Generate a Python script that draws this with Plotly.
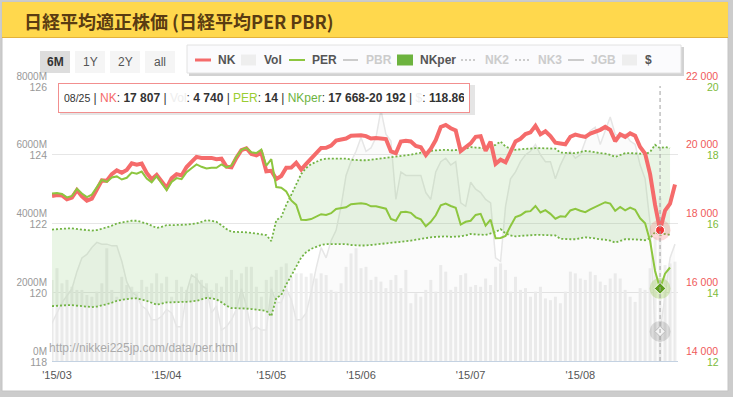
import plotly.graph_objects as go
import pandas as pd

# ---------------- data ----------------
holidays = ['2015-04-29', '2015-05-04', '2015-05-05', '2015-05-06', '2015-07-20']
dates = [d.strftime('%Y-%m-%d') for d in pd.bdate_range('2015-02-27', '2015-08-28')
         if d.strftime('%Y-%m-%d') not in holidays]

nk = [18798, 18827, 18815, 18704, 18752, 18971, 18790, 18665, 18723, 18991,
      19254, 19246, 19437, 19544, 19477, 19560, 19754, 19714, 19746, 19471,
      19286, 19411, 19207, 19035, 19313, 19435, 19398, 19641, 19790, 19938,
      19908, 19905, 19909, 19870, 19886, 19653, 19635, 19910, 20134, 20188,
      20020, 19983, 20059, 19520, 19532, 19292, 19380, 19621, 19625, 19765,
      19571, 19733, 19890, 20026, 20197, 20203, 20265, 20414, 20437, 20473,
      20552, 20563, 20570, 20543, 20473, 20489, 20461, 20458, 20097, 20046,
      20383, 20407, 20388, 20258, 20219, 19990, 20174, 20428, 20809, 20868,
      20772, 20706, 20110, 20236, 20330, 20523, 20540, 20113, 20377, 19737,
      19855, 19780, 20090, 20386, 20464, 20601, 20650, 20842, 20594, 20683,
      20545, 20350, 20329, 20303, 20523, 20585, 20549, 20521, 20615, 20665,
      20725, 20809, 20721, 20393, 20596, 20520, 20621, 20555, 20223, 20033,
      19436, 18541, 17807, 18377, 18575, 19136]

per = [16.87, 16.89, 16.86, 16.76, 16.80, 17.01, 16.87, 16.77, 16.84, 17.06,
       17.27, 17.21, 17.34, 17.37, 17.28, 17.33, 17.48, 17.45, 17.51, 17.31,
       17.20, 17.38, 17.16, 16.97, 17.21, 17.32, 17.29, 17.49, 17.61, 17.72,
       17.65, 17.60, 17.62, 17.62, 17.72, 17.63, 17.69, 17.94, 18.14, 18.20,
       18.07, 18.05, 18.15, 17.68, 17.87, 17.06, 17.04, 16.93, 16.67, 16.54,
       16.11, 16.10, 16.13, 16.19, 16.27, 16.25, 16.30, 16.42, 16.44, 16.47,
       16.56, 16.58, 16.59, 16.57, 16.50, 16.50, 16.46, 16.43, 16.13, 16.08,
       16.33, 16.34, 16.31, 16.18, 16.12, 15.92, 16.05, 16.24, 16.53, 16.58,
       16.51, 16.46, 15.97, 16.05, 16.08, 16.25, 16.28, 15.94, 16.11, 15.57,
       15.58, 15.64, 15.93, 16.19, 16.24, 16.34, 16.36, 16.51, 16.32, 16.39,
       16.28, 16.14, 16.21, 16.20, 16.38, 16.43, 16.37, 16.33, 16.41, 16.48,
       16.54, 16.62, 16.58, 16.37, 16.48, 16.38, 16.46, 16.40, 16.15, 16.01,
       15.49, 14.62, 14.11, 14.54, 14.72, None]

nkper_low = [15596, 15610, 15624, 15624, 15624, 15610, 15596, 15582, 15568, 15582,
             15610, 15652, 15694, 15750, 15778, 15806, 15820, 15820, 15792, 15750,
             15694, 15638, 15666, 15708, 15708, 15708, 15708, 15722, 15736, 15750,
             15792, 15834, 15820, 15792, 15708, 15610, 15540, 15540, 15540, 15526,
             15512, 15498, 15470, 15456, 15302, 15834, 15918, 16226, 16478, 16730,
             17010, 17164, 17262, 17318, 17374, 17402, 17402, 17402, 17402, 17402,
             17374, 17360, 17360, 17360, 17374, 17388, 17402, 17430, 17444, 17458,
             17472, 17486, 17500, 17528, 17556, 17584, 17598, 17612, 17626, 17626,
             17612, 17612, 17626, 17654, 17696, 17682, 17668, 17668, 17710, 17752,
             17836, 17710, 17654, 17626, 17640, 17654, 17668, 17668, 17668, 17668,
             17668, 17654, 17556, 17542, 17542, 17542, 17570, 17598, 17584, 17556,
             17542, 17528, 17500, 17444, 17500, 17542, 17542, 17542, 17528, 17514,
             17570, 17752, 17668, 17696, 17668, None]

nkper_high = [17824, 17840, 17856, 17856, 17856, 17840, 17824, 17808, 17792, 17808,
              17840, 17888, 17936, 18000, 18032, 18064, 18080, 18080, 18048, 18000,
              17936, 17872, 17904, 17952, 17952, 17952, 17952, 17968, 17984, 18000,
              18048, 18096, 18080, 18048, 17952, 17840, 17760, 17760, 17760, 17744,
              17728, 17712, 17680, 17664, 17488, 18096, 18192, 18544, 18832, 19120,
              19440, 19616, 19728, 19792, 19856, 19888, 19888, 19888, 19888, 19888,
              19856, 19840, 19840, 19840, 19856, 19872, 19888, 19920, 19936, 19952,
              19968, 19984, 20000, 20032, 20064, 20096, 20112, 20128, 20144, 20144,
              20128, 20128, 20144, 20176, 20224, 20208, 20192, 20192, 20240, 20288,
              20384, 20240, 20176, 20144, 20160, 20176, 20192, 20192, 20192, 20192,
              20192, 20176, 20064, 20048, 20048, 20048, 20080, 20112, 20096, 20064,
              20048, 20032, 20000, 19936, 20000, 20048, 20048, 20048, 20032, 20016,
              20080, 20288, 20192, 20224, 20192, None]

vol = [2360, 2700, 2260, 2360, 2160, 2070, 2070, 1920, 1870, 2020,
       2260, 3280, 2070, 1870, 2450, 2210, 2160, 2020, 2360, 2160,
       2260, 2550, 2260, 2450, 1870, 2360, 2160, 2070, 2260, 2550,
       2360, 2260, 2070, 2260, 2160, 2450, 2650, 2360, 2550, 2740,
       2740, 2160, 1870, 2360, 2450, 2650, 2740, 2840, 2450, 2550,
       2550, 2450, 2550, 2400, 2550, 2500, 2070, 2020, 2260, 2740,
       3130, 3280, 2700, 2740, 2360, 2450, 2310, 2120, 2360, 2500,
       2120, 2650, 1680, 1970, 1870, 2070, 2360, 2020, 2790, 2600,
       2070, 2160, 2500, 2550, 2160, 2210, 2160, 2400, 2210, 2740,
       2840, 2650, 2020, 2450, 2070, 2120, 1870, 2020, 2160, 1820,
       1770, 1870, 1680, 2020, 2600, 2550, 2400, 2360, 2600, 2500,
       2310, 2210, 2400, 2550, 2400, 2070, 1870, 1720, 2120, 2070,
       2700, 3600, 4740, 2790, 2840, 2890]

usd = [119.1, 119.4, 119.7, 119.9, 120.1, 120.6, 121.0, 121.1, 121.3, 121.45,
       121.4, 121.4, 121.35, 121.35, 120.9, 120.3, 120.0, 119.9, 119.6, 119.5,
       119.2, 119.2, 119.3, 119.5, 119.4, 119.0, 119.0, 120.0, 120.5, 120.4,
       120.2, 120.1, 119.4, 119.6, 118.9, 119.0, 119.2, 119.5, 120.1, 119.6,
       118.9, 119.0, 118.9, 118.9, 120.1, 119.7, 119.7, 120.1, 119.8, 119.2,
       119.2, 119.4, 120.0, 120.7, 121.3, 121.0, 121.5, 121.8, 122.5, 123.4,
       123.8, 124.1, 124.5, 124.1, 124.2, 124.5, 125.3, 124.6, 124.4, 122.7,
       123.5, 123.4, 123.4, 123.4, 123.4, 122.9, 122.7, 123.5, 123.8, 123.9,
       123.7, 123.8, 122.6, 122.5, 123.2, 123.0, 122.9, 122.7, 122.6, 121.0,
       120.9, 122.5, 123.3, 123.5, 123.8, 124.0, 124.1, 124.3, 124.0, 123.8,
       123.8, 123.3, 123.7, 124.0, 124.1, 123.9, 124.0, 124.4, 124.7, 124.8,
       124.3, 124.7, 125.1, 124.6, 124.5, 124.6, 124.4, 124.3, 123.7, 123.3,
       122.0, 118.9, 118.86, 119.9, 121.0, 121.4]

month_ticks = ['2015-03-02', '2015-04-01', '2015-05-01', '2015-06-01', '2015-07-01', '2015-08-03']
month_labels = ["'15/03", "'15/04", "'15/05", "'15/06", "'15/07", "'15/08"]
vol_ticks = [0, 2000, 4000, 6000, 8000]
vol_labels = ['0M', '2000M', '4000M', '6000M', '8000M']
usd_ticks = [118, 120, 122, 124, 126]
nk_ticks = [14000, 16000, 18000, 20000, 22000]
nk_labels = ['14 000', '16 000', '18 000', '20 000', '22 000']
per_ticks = [12, 14, 16, 18, 20]
hover_date = '2015-08-25'

# ---------------- style / layout helpers ----------------
FONT = 'Liberation Sans, Arial, sans-serif'
C_NK = '#f56b6b'
C_PER = '#8dc63f'
C_BAND = '#72b444'
C_GREY_TXT = '#999999'
BAND_DASH = '2px,2px'
L, R, T, B = 52, 678, 86, 361


def px(x):
    return (x - L) / (R - L)


def py(y):
    return (B - y) / (B - T)


def rect(x0, y0, x1, y1, fill, line=None, lw=0, layer='below'):
    return dict(type='rect', xref='paper', yref='paper', x0=px(x0), x1=px(x1),
                y0=py(y1), y1=py(y0), fillcolor=fill,
                line=dict(color=line or fill, width=lw), layer=layer)


def seg(x0, x1, y, color, width, dash='solid', layer='above'):
    return dict(type='line', xref='paper', yref='paper', x0=px(x0), x1=px(x1),
                y0=py(y), y1=py(y), line=dict(color=color, width=width, dash=dash),
                layer=layer)


def label(x, y, s, size=12, color='#555555', anchor='left', family=FONT):
    return dict(xref='paper', yref='paper', x=px(x), y=py(y), text=s, showarrow=False,
                xanchor=anchor, yanchor='middle', font=dict(size=size, color=color, family=family))


def fmt(v):
    return f'{v:,}'.replace(',', ' ')


hi = dates.index(hover_date)

fig = go.Figure()

fig.add_trace(go.Bar(x=dates, y=vol, yaxis='y', marker=dict(color='#eeeeee', line=dict(width=0)),
                     hoverinfo='skip', showlegend=False))
fig.add_trace(go.Scatter(x=dates, y=usd, yaxis='y2', mode='lines',
                         line=dict(color='#e6e6e6', width=1.5), fill='tozeroy',
                         fillcolor='rgba(0,0,0,0.015)', hoverinfo='skip', showlegend=False))
fig.add_trace(go.Scatter(x=dates, y=nkper_low, yaxis='y3', mode='lines',
                         line=dict(color=C_BAND, width=1.8, dash=BAND_DASH), hoverinfo='skip',
                         showlegend=False))
fig.add_trace(go.Scatter(x=dates, y=nkper_high, yaxis='y3', mode='lines',
                         line=dict(color=C_BAND, width=1.8, dash=BAND_DASH), fill='tonexty',
                         fillcolor='rgba(125,195,100,0.17)', hoverinfo='skip', showlegend=False))
fig.add_trace(go.Scatter(x=dates, y=nk, yaxis='y3', mode='lines',
                         line=dict(color=C_NK, width=4), hoverinfo='skip', showlegend=False))
fig.add_trace(go.Scatter(x=dates, y=per, yaxis='y4', mode='lines',
                         line=dict(color=C_PER, width=2), hoverinfo='skip', showlegend=False))

# hover markers at 08/25
fig.add_trace(go.Scatter(x=[hover_date], y=[usd[hi]], yaxis='y2', mode='markers',
                         marker=dict(size=21, color='rgba(0,0,0,0.12)'), hoverinfo='skip', showlegend=False))
fig.add_trace(go.Scatter(x=[hover_date], y=[usd[hi]], yaxis='y2', mode='markers',
                         marker=dict(size=8, symbol='diamond', color='#f4f4f4', line=dict(color='#bbbbbb', width=1)),
                         hoverinfo='skip', showlegend=False))
fig.add_trace(go.Scatter(x=[hover_date], y=[nk[hi]], yaxis='y3', mode='markers',
                         marker=dict(size=21, color='rgba(245,107,107,0.25)'), hoverinfo='skip', showlegend=False))
fig.add_trace(go.Scatter(x=[hover_date], y=[nk[hi]], yaxis='y3', mode='markers',
                         marker=dict(size=9, color='#f23b3b', line=dict(color='white', width=1)),
                         hoverinfo='skip', showlegend=False))
fig.add_trace(go.Scatter(x=[hover_date], y=[per[hi]], yaxis='y4', mode='markers',
                         marker=dict(size=21, color='rgba(141,198,63,0.3)'), hoverinfo='skip', showlegend=False))
fig.add_trace(go.Scatter(x=[hover_date], y=[per[hi]], yaxis='y4', mode='markers',
                         marker=dict(size=9, symbol='diamond', color='#5e9e1e', line=dict(color='white', width=1)),
                         hoverinfo='skip', showlegend=False))

ytick_font = dict(size=10, color=C_GREY_TXT, family=FONT)

fig.update_layout(
    width=733, height=397, autosize=False,
    margin=dict(l=L, r=733 - R, t=T, b=397 - B, pad=0),
    paper_bgcolor='#cccccc', plot_bgcolor='white',
    hovermode=False, showlegend=False, bargap=0.4,
    font=dict(family=FONT),
    xaxis=dict(type='category', range=[0, 125.6], tickvals=month_ticks, ticktext=month_labels,
               showgrid=False, zeroline=False, showline=True, linecolor='#c4d2e2', linewidth=1,
               ticks='', tickfont=dict(size=11, color='#555555', family=FONT), fixedrange=True,
               ticklabelstandoff=4),
    yaxis=dict(range=[0, 8000], tickvals=vol_ticks, ticktext=vol_labels, side='left',
               showgrid=True, gridcolor='#e6e6e6', gridwidth=1, zeroline=False, ticks='',
               tickfont=ytick_font, ticklabelshift=-10, ticklabelstandoff=4),
    yaxis2=dict(range=[118, 126], tickvals=usd_ticks, ticktext=[str(v) for v in usd_ticks],
                overlaying='y', side='left', showgrid=False, zeroline=False, ticks='',
                tickfont=dict(size=10.5, color=C_GREY_TXT, family=FONT), ticklabelshift=1,
                ticklabelstandoff=4),
    yaxis3=dict(range=[14000, 22000], tickvals=nk_ticks, ticktext=nk_labels,
                overlaying='y', side='right', showgrid=False, zeroline=False, ticks='',
                tickfont=dict(size=10.5, color='#f05a5a', family=FONT), ticklabelshift=-10,
                ticklabelstandoff=7),
    yaxis4=dict(range=[12, 20], tickvals=per_ticks, ticktext=[str(v) for v in per_ticks],
                overlaying='y', side='right', showgrid=False, zeroline=False, ticks='',
                tickfont=dict(size=10.5, color='#7cbb3a', family=FONT), ticklabelshift=1,
                ticklabelstandoff=28),
)

shapes = [
    rect(2, 2, 728, 391, 'white', '#c4c4c4', 1),
    rect(2, 2, 728, 37, '#ffd84d'),
    seg(2, 728, 37.5, '#e3b23a', 1, layer='below'),
    # range buttons
    rect(40, 51, 70, 73, '#dddddd'),
    rect(75, 51, 105, 73, '#f5f5f5'),
    rect(110, 51, 140, 73, '#f5f5f5'),
    rect(145, 51, 175, 73, '#f5f5f5'),
    # legend box with shadow
    rect(189, 47, 684, 76, '#d2d2d2'),
    rect(187, 45, 681, 73, '#fbfbfd', '#e2e2e2', 1),
    seg(195, 211, 60, C_NK, 3),
    rect(241, 54.5, 256, 65.5, '#eeeeee', layer='above'),
    seg(289, 305, 60, C_PER, 2),
    seg(343, 358, 60, '#cccccc', 2),
    rect(397, 54.5, 413, 65.5, '#6db33f', layer='above'),
    seg(461, 476, 60, '#cccccc', 2, dash=BAND_DASH),
    seg(515, 529, 60, '#cccccc', 2, dash=BAND_DASH),
    seg(568, 584, 60, '#cccccc', 2),
    rect(622, 54.5, 637, 65.5, '#eeeeee', layer='above'),
    # tooltip shadow
    rect(60, 85, 475, 115, 'rgba(0,0,0,0.10)', layer='above'),
    # hover crosshair
    dict(type='line', xref='x', yref='paper', x0=hover_date, x1=hover_date, y0=0, y1=1,
         line=dict(color='#a0a0a0', width=1, dash='4px,3px'), layer='above'),
]

tip = (f"<span style='font-size:10.5px'>{hover_date[5:7]}/{hover_date[8:10]}</span> | "
       f"<span style='color:{C_NK}'>NK</span>: <b>{fmt(nk[hi])}</b> | "
       f"<span style='color:#eeeeee'>Vol</span>: <b>{fmt(vol[hi])}</b> | "
       f"<span style='color:#9acd32'>PER</span>: <b>{round(per[hi])}</b> | "
       f"<span style='color:#6db33f'>NKper</span>: <b>{fmt(nkper_low[hi])}-{fmt(nkper_high[hi])}</b> | "
       f"<span style='color:#eeeeee'>$</span>: <b>{usd[hi]:.2f}</b>")

annotations = [
    label(22, 21, '<b>日経平均適正株価 (日経平均PER PBR)</b>', size=18, color='#5a3c12',
          family='Noto Sans CJK JP'),
    label(55, 62, '<b>6M</b>', 12, '#333333', 'center'),
    label(90, 62, '1Y', 12, '#555555', 'center'),
    label(125, 62, '2Y', 12, '#555555', 'center'),
    label(160, 62, 'all', 12, '#555555', 'center'),
    label(216, 60, '<b>NK</b>', 12, '#555555'),
    label(262, 60, '<b>Vol</b>', 12, '#555555'),
    label(310, 60, '<b>PER</b>', 12, '#555555'),
    label(364, 60, '<b>PBR</b>', 12, '#cccccc'),
    label(418, 60, '<b>NKper</b>', 12, '#555555'),
    label(483, 60, '<b>NK2</b>', 12, '#cccccc'),
    label(536, 60, '<b>NK3</b>', 12, '#cccccc'),
    label(589, 60, '<b>JGB</b>', 12, '#cccccc'),
    label(643, 60, '<b>$</b>', 12, '#555555'),
    label(47, 348, 'http://nikkei225jp.com/data/per.html', 12, '#aaaaaa'),
    dict(xref='paper', yref='paper', x=px(58), y=py(83), xanchor='left', yanchor='top',
         text=tip, showarrow=False, align='left', width=400, height=18,
         bgcolor='white', bordercolor='#f28f8f', borderwidth=1, borderpad=5,
         font=dict(size=12, color='#333333', family=FONT)),
]

fig.update_layout(shapes=shapes, annotations=annotations)
fig.write_html('out.html', config={'displayModeBar': False},
               post_script="document.body.style.margin='0';document.body.style.overflow='hidden';")
